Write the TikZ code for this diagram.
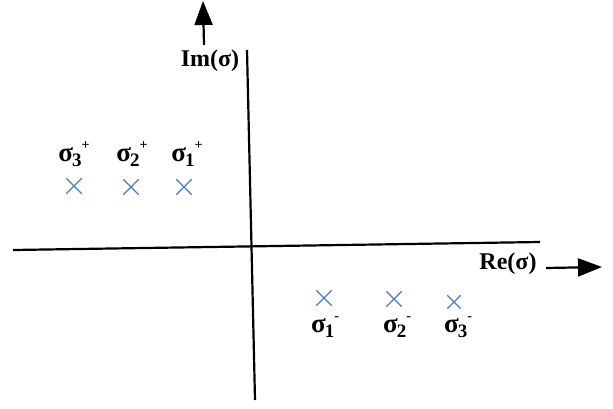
\documentclass[tikz,border=0pt]{standalone}
\usepackage{fontspec}
\setmainfont{Liberation Serif}
\usetikzlibrary{arrows.meta,shapes.misc}
\definecolor{crossblue}{RGB}{74,122,192}
\tikzset{
  axis/.style={line width=2.2pt, black},
  bigarrow/.style={line width=2.2pt, -{Triangle[length=24pt,width=18pt]}},
  lbl/.style={font=\bfseries\fontsize{24}{28}\selectfont, inner sep=0pt},
  cross/.style={draw=crossblue, line width=1.3pt, cross out, minimum size=14pt, inner sep=0pt},
}
\newcommand{\sg}[2]{{\fontsize{27}{28}\selectfont σ}\kern-1pt{\fontsize{19}{20}\selectfont\raisebox{-5pt}{#1}}\raisebox{12pt}{\fontsize{14}{14}\selectfont#2}}
\begin{document}
\begin{tikzpicture}[x=1pt,y=-1pt]
\useasboundingbox (0,0) rectangle (613,409);
% axes
\coordinate (vt) at (247,50);
\coordinate (vb) at (255,400);
\coordinate (hl) at (13,250);
\coordinate (hr) at (540,242);
\draw[axis] (vt) -- (vb);
\draw[axis] (hl) -- (hr);
% arrows
\coordinate (ua0) at (204,45);
\coordinate (ua1) at (203,1);
\draw[bigarrow] (ua0) -- (ua1);
\coordinate (ra0) at (546,268);
\coordinate (ra1) at (602,267);
\draw[bigarrow] (ra0) -- (ra1);
% axis labels
\node[lbl] (im) at (210,61) {Im(σ)};
\node[lbl] (re) at (508,264) {Re(σ)};
% upper crosses
\node[cross] (u3) at (74,186) {};
\node[cross] (u2) at (131,187) {};
\node[cross] (u1) at (184,187) {};
\node[lbl] (lu3) at (74,154) {\sg{3}{+}};
\node[lbl] (lu2) at (132,154) {\sg{2}{+}};
\node[lbl] (lu1) at (187,154) {\sg{1}{+}};
% lower crosses
\node[cross] (d1) at (324,298) {};
\node[cross] (d2) at (394,299) {};
\node[cross, minimum size=12pt] (d3) at (454,302) {};
\node[lbl] (ld1) at (325,327) {\sg{1}{-}};
\node[lbl] (ld2) at (397,327) {\sg{2}{-}};
\node[lbl] (ld3) at (458,327) {\sg{3}{-}};
\end{tikzpicture}
\end{document}
